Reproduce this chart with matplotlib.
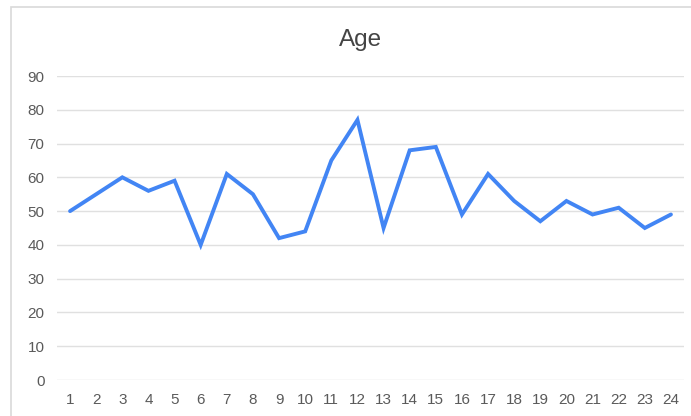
import matplotlib
matplotlib.use("Agg")
import matplotlib.pyplot as plt
from matplotlib.patches import Rectangle

plt.rcParams['font.family'] = ['Liberation Sans', 'DejaVu Sans']

# Series data
positions = list(range(1, 25))
ages = [50, 55, 60, 56, 59, 40, 61, 55, 42, 44, 65, 77,
        45, 68, 69, 49, 61, 53, 47, 53, 49, 51, 45, 49]
y_ticks = [0, 10, 20, 30, 40, 50, 60, 70, 80, 90]
title = "Age"

W, H = 691, 416
fig = plt.figure(figsize=(W / 100, H / 100), dpi=100)
fig.patch.set_facecolor("white")

# Light frame around the chart area (runs off the right and bottom edges)
fig.add_artist(Rectangle((11 / W, -0.05), 1.2, (H - 7) / H + 0.05,
                         transform=fig.transFigure, fill=False,
                         edgecolor="#d9d9d9", linewidth=1.2))

ax = fig.add_axes([57 / W, (H - 380) / H, (684 - 57) / W, (380 - 76) / H])
ax.plot(positions, ages, color="#4285F4", linewidth=2.8,
        solid_joinstyle="miter", solid_capstyle="round", zorder=3)

ax.set_xlim(0.5, 24.5)
ax.set_ylim(0, 90)
ax.set_yticks(y_ticks)
ax.set_xticks(positions)
ax.set_xticklabels([str(p) for p in positions])

ax.grid(axis="y", color="#e0e0e0", linewidth=1.0)
ax.grid(axis="x", visible=False)
ax.set_axisbelow(True)
for s in ax.spines.values():
    s.set_visible(False)
ax.tick_params(axis="both", length=0, labelsize=11, colors="#5a5a5a")
ax.tick_params(axis="y", pad=9)
ax.tick_params(axis="x", pad=9)

fig.text(361 / W, 1 - 40 / H, title, ha="center", va="center",
         fontsize=17.5, color="#444444")

fig.savefig("out.png", dpi=100, facecolor="white")
